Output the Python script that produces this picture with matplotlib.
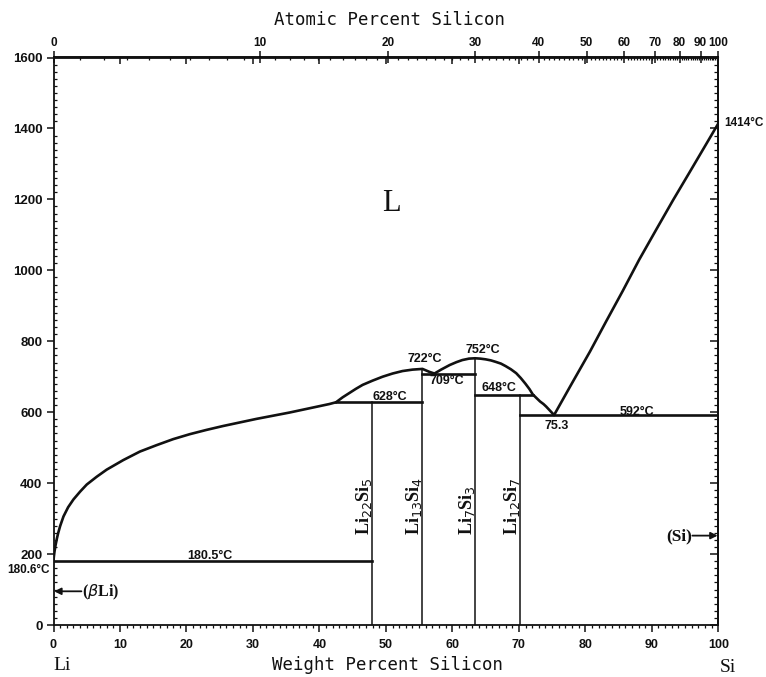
import numpy as np
import matplotlib
matplotlib.use("Agg")
import matplotlib.pyplot as plt
from matplotlib.ticker import FixedLocator, MultipleLocator, NullFormatter

M_LI, M_SI = 6.941, 28.0855


def at_to_wt(a):
    a = np.asarray(a, dtype=float)
    with np.errstate(divide="ignore", invalid="ignore"):
        return 100.0 * a * M_SI / (a * M_SI + (100.0 - a) * M_LI)


def wt_to_at(w):
    w = np.asarray(w, dtype=float)
    with np.errstate(divide="ignore", invalid="ignore"):
        return 100.0 * (w / M_SI) / (w / M_SI + (100.0 - w) / M_LI)


def same(v):
    return np.asarray(v, dtype=float)


# Liquidus, Li-rich side (wt% Si, deg C)
liq_li_wt = [0.0, 0.05, 0.15, 0.3, 0.5, 0.7, 1.0, 1.5, 2.2, 3.0, 4.0, 5.0, 6.5, 8.0, 10.5, 13.0,
             15.5, 18.0, 20.5, 23.0, 25.5, 28.0, 30.5, 33.0, 35.5, 38.0, 40.0, 41.5, 42.5]
liq_li_T = [180.6, 192, 207, 224, 243, 259, 279, 306, 332, 354, 376, 396, 418, 438, 465, 489,
            507, 524, 538, 550, 561, 571, 581, 590, 599, 609, 617, 623, 628]

# Liquidus over the intermediate compounds
liq_mid_wt = [42.5, 43.5, 44.5, 45.5, 46.5, 48.0, 49.5, 51.0, 52.5, 54.0, 55.5, 56.5, 57.3,
              58.3, 59.6, 60.6, 61.5, 62.5, 63.4, 64.2, 65.0, 65.8, 66.5, 67.3, 68.0, 68.8,
              69.6, 70.3, 71.0, 71.6, 72.1, 72.7, 73.2, 73.7, 74.1, 74.7, 75.3]
liq_mid_T = [628, 642, 654, 666, 677, 689, 700, 709, 716, 720, 722, 714, 709,
             720, 733, 741, 747, 751, 752, 751, 749, 746, 742, 737, 730, 721,
             710, 696, 680, 665, 650, 639, 630, 623, 616, 604, 592]

# Liquidus, Si-rich side
liq_si_wt = [75.3, 78.0, 80.7, 83.1, 85.6, 88.1, 90.7, 93.2, 95.7, 97.9, 100.0]
liq_si_T = [592, 682, 771, 855, 941, 1030, 1116, 1198, 1277, 1347, 1414]

# Intermetallic compounds
compound_names = ["Li$_{22}$Si$_5$", "Li$_{13}$Si$_4$", "Li$_7$Si$_3$", "Li$_{12}$Si$_7$"]
compound_wt = [47.9, 55.5, 63.4, 70.2]
compound_top = [628, 722, 752, 648]

# Invariant reactions: temperature, left and right end (wt% Si)
iso_T = [180.5, 628, 709, 648, 592]
iso_x0 = [0.0, 42.5, 55.5, 63.4, 70.2]
iso_x1 = [47.9, 55.5, 63.4, 72.1, 100.0]

# Temperature annotations: text, wt%, label temperature
temp_labels = ["180.5°C", "628°C", "722°C", "709°C", "752°C", "648°C", "75.3", "592°C"]
temp_label_wt = [23.5, 50.6, 55.9, 59.2, 64.6, 67.0, 75.7, 87.8]
temp_label_T = [194, 644, 749, 688, 776, 667, 561, 600]

bottom_ticks = [0, 10, 20, 30, 40, 50, 60, 70, 80, 90, 100]
top_ticks = [0, 10, 20, 30, 40, 50, 60, 70, 80, 90, 100]
left_ticks = [0, 200, 400, 600, 800, 1000, 1200, 1400, 1600]

W, H = 766, 677
fig = plt.figure(figsize=(W / 100, H / 100), dpi=100)
ax_l, ax_r, ax_b, ax_t = 53.5, 718.3, 625.0, 57.5
ax = fig.add_axes([ax_l / W, 1 - ax_b / H, (ax_r - ax_l) / W, (ax_b - ax_t) / H])
ax.set_xlim(0, 100)
ax.set_ylim(0, 1600)

ink = "#111111"
lbl_font = dict(family="Liberation Sans", weight="bold", size=9)

for s in ax.spines.values():
    s.set_linewidth(1.3)
    s.set_color(ink)

# Phase boundaries
for xs, ys in ((liq_li_wt, liq_li_T), (liq_mid_wt, liq_mid_T), (liq_si_wt, liq_si_T)):
    ax.plot(xs, ys, color=ink, lw=1.9, solid_capstyle="round", solid_joinstyle="round")
for T, x0, x1 in zip(iso_T, iso_x0, iso_x1):
    ax.plot([x0, x1], [T, T], color=ink, lw=1.9)
for x, top in zip(compound_wt, compound_top):
    ax.plot([x, x], [0, top], color=ink, lw=1.1)

# Compound labels
for name, x in zip(compound_names, compound_wt):
    ax.text(x - 1.25, 254, name, rotation=90, ha="center", va="bottom",
            family="Liberation Serif", weight="bold", size=13, color=ink)

for t, x, T in zip(temp_labels, temp_label_wt, temp_label_T):
    ax.text(x, T, t, ha="center", va="center", color=ink, **lbl_font)

ax.text(100.9, 1414, "1414°C", ha="left", va="center", color=ink, clip_on=False,
        family="Liberation Sans", weight="bold", size=8.5)
ax.text(-0.5, 156, "180.6°C", ha="right", va="center", color=ink, clip_on=False,
        family="Liberation Sans", weight="bold", size=8.5)

ax.text(50.9, 1187, "L", ha="center", va="center", family="Liberation Serif",
        size=22, color=ink)

# Terminal solid solutions
ax.annotate("", xy=(0.1, 95), xytext=(4.2, 95),
            arrowprops=dict(arrowstyle="-|>", color=ink, lw=1.3, mutation_scale=10,
                            shrinkA=0, shrinkB=0))
ax.text(4.3, 92, "($\\beta$Li)", ha="left", va="center", family="Liberation Serif",
        weight="bold", size=11.5, color=ink)
ax.annotate("", xy=(99.9, 252), xytext=(96.1, 252),
            arrowprops=dict(arrowstyle="-|>", color=ink, lw=1.3, mutation_scale=10,
                            shrinkA=0, shrinkB=0))
ax.text(96.0, 250, "(Si)", ha="right", va="center", family="Liberation Serif",
        weight="bold", size=12.5, color=ink)

# Weight percent (bottom) and temperature (left)
ax.xaxis.set_major_locator(FixedLocator(bottom_ticks))
ax.xaxis.set_minor_locator(MultipleLocator(1))
ax.yaxis.set_major_locator(FixedLocator(left_ticks))
ax.yaxis.set_minor_locator(MultipleLocator(20))
ax.tick_params(axis="x", which="major", direction="out", length=5, width=1.1,
               pad=5, colors=ink, top=False)
ax.tick_params(axis="x", which="minor", direction="out", length=2.5, width=0.9,
               colors=ink, top=False)
ax.tick_params(axis="y", which="major", direction="out", length=5, width=1.1,
               pad=3, colors=ink, right=False)
ax.tick_params(axis="y", which="minor", direction="in", length=2.5, width=0.9,
               colors=ink, right=False)
ax.set_xticklabels([str(v) for v in bottom_ticks], family="Liberation Sans",
                   weight="bold", size=9)
ax.set_yticklabels([str(v) for v in left_ticks], family="Liberation Sans",
                   weight="bold", size=9.5)

# Right-hand temperature ticks, pointing inward
rsec = ax.secondary_yaxis("right", functions=(same, same))
rsec.yaxis.set_major_locator(FixedLocator(left_ticks))
rsec.yaxis.set_minor_locator(MultipleLocator(20))
rsec.yaxis.set_major_formatter(NullFormatter())
rsec.tick_params(which="major", direction="in", length=6, width=1.1, colors=ink)
rsec.tick_params(which="minor", direction="in", length=3, width=0.9, colors=ink)
rsec.spines["right"].set_linewidth(1.3)

# Weight-percent marks along the top edge, pointing inward
tsec = ax.secondary_xaxis("top", functions=(same, same))
tsec.xaxis.set_major_locator(FixedLocator(bottom_ticks[1:-1]))
tsec.xaxis.set_major_formatter(NullFormatter())
tsec.tick_params(which="major", direction="in", length=5, width=1.1, colors=ink)

# Atomic percent scale on top
sec = ax.secondary_xaxis("top", functions=(wt_to_at, at_to_wt))
sec.xaxis.set_major_locator(FixedLocator(top_ticks))
sec.xaxis.set_minor_locator(FixedLocator([v for v in range(0, 101) if v % 10]))
sec.tick_params(which="major", direction="inout", length=8, width=1.1, pad=2, colors=ink)
sec.tick_params(which="minor", direction="in", length=2.5, width=0.9, colors=ink)
sec.set_xticklabels([str(v) for v in top_ticks], family="Liberation Sans",
                    weight="bold", size=8.5)
sec.spines["top"].set_linewidth(1.3)

# Axis titles and element names
fig.text(390 / W, 1 - 20 / H, "Atomic Percent Silicon", ha="center", va="center",
         family="DejaVu Sans Mono", size=12.5, color=ink)
fig.text(388 / W, 1 - 665 / H, "Weight Percent Silicon", ha="center", va="center",
         family="DejaVu Sans Mono", size=12.5, color=ink)
fig.text(62 / W, 1 - 665 / H, "Li", ha="center", va="center",
         family="Liberation Serif", size=14, color=ink)
fig.text(728 / W, 1 - 668 / H, "Si", ha="center", va="center",
         family="Liberation Serif", size=14, color=ink)

fig.savefig("out.png", dpi=100, facecolor="white")
